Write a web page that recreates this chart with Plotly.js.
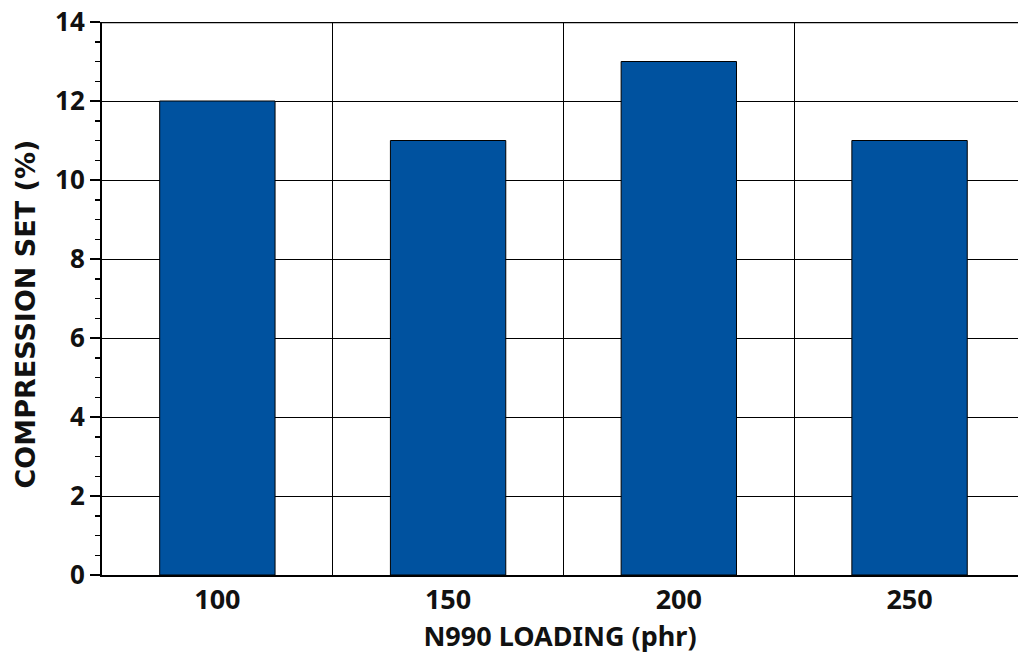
<!DOCTYPE html>
<html><head><meta charset="utf-8">
<script src="https://cdn.plot.ly/plotly-3.0.1.min.js"></script>
<style>body{margin:0;background:#fff}#c{width:1018px;height:654px}</style>
</head><body><div id="c"></div>
<script>
const categories = ["100", "150", "200", "250"];
const compressionSet = [12, 11, 13, 11];
const xTitle = "N990 LOADING (phr)";
const yTitle = "COMPRESSION SET (%)";

const font = {family: "Noto Sans, Open Sans, sans-serif", color: "#111", size: 26, weight: 700};
const idx = categories.map((c, i) => i);
const xRange = [-0.5, categories.length - 0.53];
const data = [{
  type: "bar", x: idx, y: compressionSet, width: 0.5,
  marker: {color: "#00529f", line: {color: "#000", width: 1}},
  hoverinfo: "skip"
}, {
  type: "scatter", x: [], y: [], xaxis: "x2", yaxis: "y", showlegend: false
}];
const layout = {
  width: 1018, height: 654, showlegend: false,
  margin: {l: 102, r: 0, t: 22, b: 79},
  plot_bgcolor: "#fff", paper_bgcolor: "#fff",
  font: font,
  xaxis: {
    range: xRange, tickvals: idx, ticktext: categories,
    showgrid: false, zeroline: false, ticks: "",
    showline: true, linecolor: "#000", linewidth: 2,
    tickfont: {size: 27, weight: 700},
    title: {text: xTitle, font: {size: 27, weight: 700}, standoff: 6}
  },
  xaxis2: {
    overlaying: "x", range: xRange,
    tickvals: idx.slice(0, -1).map(i => i + 0.5), showticklabels: false, ticks: "",
    showgrid: true, gridcolor: "#000", gridwidth: 1, zeroline: false, showline: false
  },
  yaxis: {
    range: [0, 14], dtick: 2, tick0: 0, showgrid: true, gridcolor: "#000", gridwidth: 1,
    zeroline: false, showline: true, linecolor: "#000", linewidth: 2,
    ticks: "outside", ticklen: 10, tickwidth: 2, tickcolor: "#000",
    minor: {dtick: 0.5, ticks: "outside", ticklen: 5, tickwidth: 1.5, tickcolor: "#000", showgrid: false},
    tickfont: {size: 26, weight: 700}
  },
  annotations: [{
    text: yTitle, textangle: -90, xref: "paper", yref: "paper", x: 0, y: 0.5,
    xanchor: "center", yanchor: "middle", xshift: -77, yshift: -16, showarrow: false,
    font: {family: "DejaVu Sans, sans-serif", size: 27, weight: 700, color: "#111"}
  }],
  shapes: [{type: "line", xref: "paper", yref: "y", x0: 0, x1: 1, y0: 14, y1: 14, line: {color: "#000", width: 2.5}}]
};
Plotly.newPlot("c", data, layout, {displayModeBar: false, staticPlot: true});
</script></body></html>
